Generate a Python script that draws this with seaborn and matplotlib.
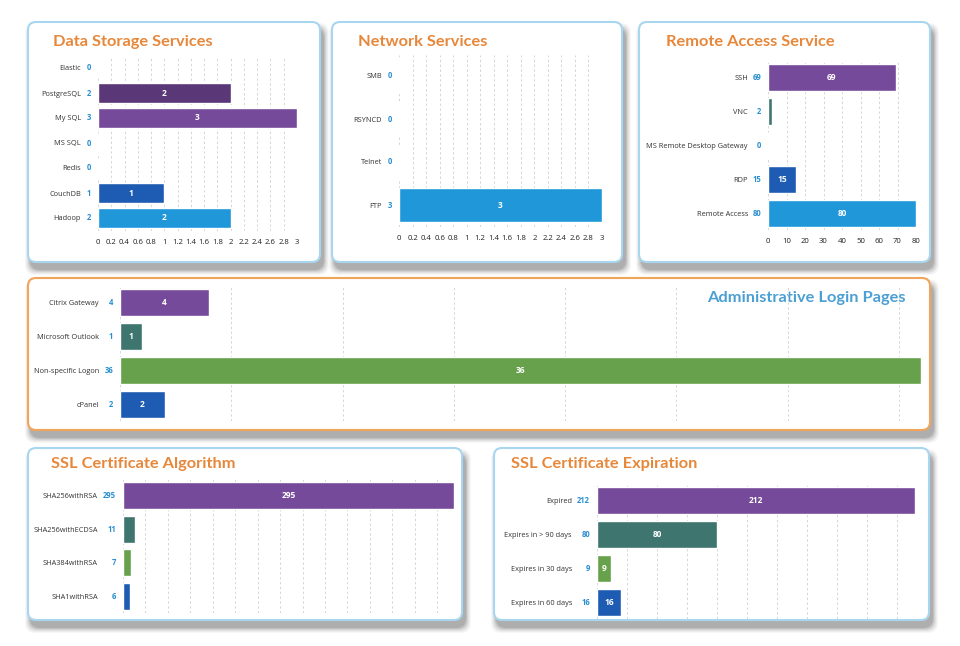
"""
Tableau de bord d'exposition : six panneaux de barres horizontales.
"""

import numpy as np
import pandas as pd
import matplotlib
matplotlib.use("Agg")          # rendu sans interface graphique
import matplotlib.pyplot as plt
from matplotlib.patches import FancyBboxPatch
from matplotlib.ticker import MultipleLocator, FuncFormatter, NullFormatter
import seaborn as sns

# ── Données ──────────────────────────────────────────────────────────
STORAGE_CATS = ["Elastic", "PostgreSQL", "My SQL", "MS SQL", "Redis", "CouchDB", "Hadoop"]
STORAGE_VALS = [0, 2, 3, 0, 0, 1, 2]

NETWORK_CATS = ["SMB", "RSYNCD", "Telnet", "FTP"]
NETWORK_VALS = [0, 0, 0, 3]

REMOTE_CATS = ["SSH", "VNC", "MS Remote Desktop Gateway", "RDP", "Remote Access"]
REMOTE_VALS = [69, 2, 0, 15, 80]

ADMIN_CATS = ["Citrix Gateway", "Microsoft Outlook", "Non-specific Logon", "cPanel"]
ADMIN_VALS = [4, 1, 36, 2]

ALGO_CATS = ["SHA256withRSA", "SHA256withECDSA", "SHA384withRSA", "SHA1withRSA"]
ALGO_VALS = [295, 11, 7, 6]

EXPIRY_CATS = ["Expired", "Expires in > 90 days", "Expires in 30 days", "Expires in 60 days"]
EXPIRY_VALS = [212, 80, 9, 16]

# ── Couleurs ─────────────────────────────────────────────────────────
PURPLE      = "#764a9a"
DARK_PURPLE = "#5a3877"
NAVY        = "#1e5bb2"
SKY         = "#1f97d9"
TEAL        = "#3e756f"
GREEN       = "#67a14b"
NUM_BLUE    = "#2a8fd0"
ORANGE      = "#e7873a"

STORAGE_COLORS = [PURPLE, DARK_PURPLE, PURPLE, PURPLE, PURPLE, NAVY, SKY]
NETWORK_COLORS = [SKY, SKY, SKY, SKY]
REMOTE_COLORS  = [PURPLE, TEAL, NAVY, NAVY, SKY]
FOUR_COLORS    = [PURPLE, TEAL, GREEN, NAVY]

W, H = 960, 646

sns.set_theme(style="white")
plt.rcParams["font.family"] = ["Open Sans", "DejaVu Sans"]

fig = plt.figure(figsize=(W / 100, H / 100), dpi=100)
fig.patch.set_facecolor("white")

# Axe de fond en coordonnées pixels (origine en haut à gauche)
bg = fig.add_axes([0, 0, 1, 1])
bg.set_xlim(0, W)
bg.set_ylim(H, 0)
bg.axis("off")


def panneau(x0, y0, x1, y1, edge):
    """Cadre arrondi blanc avec une ombre grise floue."""
    for k, a in enumerate([0.04, 0.05, 0.07, 0.09, 0.12, 0.14]):
        g = 6 - k
        bg.add_patch(FancyBboxPatch(
            (x0 + 3 - g, y0 + 7 - g), x1 - x0 + 2 * g, y1 - y0 + 2 * g,
            boxstyle="round,pad=0,rounding_size=10", fc="#444444", ec="none", alpha=a))
    bg.add_patch(FancyBboxPatch(
        (x0, y0), x1 - x0, y1 - y0,
        boxstyle="round,pad=0,rounding_size=8", fc="white", ec=edge, lw=1.5))


def px_axes(left, top, right, bottom):
    return fig.add_axes([left / W, 1 - bottom / H, (right - left) / W, (bottom - top) / H])


def barres(box, cats, vals, colors, step, xmax, ticks, pad_px, inside_min):
    ax = px_axes(*box)
    ax.set_facecolor("none")
    sns.barplot(x=vals, y=cats, hue=cats, palette=colors, orient="h",
                width=0.8, saturation=1, legend=False, ax=ax)
    ax.set_xlim(0, xmax)
    ax.xaxis.set_major_locator(MultipleLocator(step))
    ax.grid(axis="x", ls=(0, (2.5, 2.5)), color="#d6d6d6", lw=0.7)
    ax.set_axisbelow(True)
    sns.despine(ax=ax, left=True, bottom=True)
    ax.set_xlabel("")
    ax.set_ylabel("")
    ax.tick_params(axis="y", length=0, pad=pad_px * 0.72, labelsize=5.3, labelcolor="#333333")
    ax.tick_params(axis="x", length=0, pad=6, labelsize=5.6, labelcolor="#222222")
    if ticks:
        ax.xaxis.set_major_formatter(FuncFormatter(lambda v, p: f"{v:g}"))
    else:
        ax.xaxis.set_major_formatter(NullFormatter())

    for i, v in enumerate(vals):
        # valeur en bleu juste à gauche de l'axe
        ax.annotate(f"{v}", xy=(0, i), xycoords=ax.get_yaxis_transform(),
                    xytext=(-5, 0), textcoords="offset points",
                    ha="right", va="center", color=NUM_BLUE,
                    fontsize=5.5, fontweight="bold")
        if v > 0 and v >= inside_min:
            ax.text(v / 2, i, f"{v}", ha="center", va="center",
                    color="white", fontsize=6, fontweight="bold")
    return ax


# ── Cadres ──
panneau(28, 22, 320, 262, "#a9d6ef")
panneau(332, 22, 622, 262, "#a9d6ef")
panneau(639, 22, 930, 262, "#a9d6ef")
panneau(28, 278, 930, 430, "#f2a45a")
panneau(28, 448, 462, 620, "#a9d6ef")
panneau(494, 448, 929, 620, "#a9d6ef")

# ── Titres ──
titre = dict(color=ORANGE, fontsize=11.8, fontweight="bold", va="center",
             family=["Lato", "DejaVu Sans"])
bg.text(53, 42, "Data Storage Services", ha="left", **titre)
bg.text(358, 42, "Network Services", ha="left", **titre)
bg.text(666, 42, "Remote Access Service", ha="left", **titre)
bg.text(51, 464, "SSL Certificate Algorithm", ha="left", **titre)
bg.text(511, 464, "SSL Certificate Expiration", ha="left", **titre)
bg.text(906, 298, "Administrative Login Pages", ha="right", va="center",
        color="#4b9fd2", fontsize=11.8, fontweight="bold", family=["Lato", "DejaVu Sans"])

# ── Graphiques ──
barres((98, 55.5, 297, 230.5), STORAGE_CATS, STORAGE_VALS, STORAGE_COLORS,
       0.2, 3, True, 17, 1)
barres((399, 54.5, 602, 226.5), NETWORK_CATS, NETWORK_VALS, NETWORK_COLORS,
       0.2, 3, True, 17, 1)
barres((768, 61, 916, 230), REMOTE_CATS, REMOTE_VALS, REMOTE_COLORS,
       10, 80, True, 20, 10)
barres((120, 286, 921, 421), ADMIN_CATS, ADMIN_VALS, FOUR_COLORS,
       5, 36, False, 21, 1)
barres((123, 479, 454, 613), ALGO_CATS, ALGO_VALS, FOUR_COLORS,
       20, 295, False, 25, 100)
barres((597, 484, 915, 619), EXPIRY_CATS, EXPIRY_VALS, FOUR_COLORS,
       20, 212, False, 25, 1)

fig.savefig("out.png", dpi=100, facecolor="white")
